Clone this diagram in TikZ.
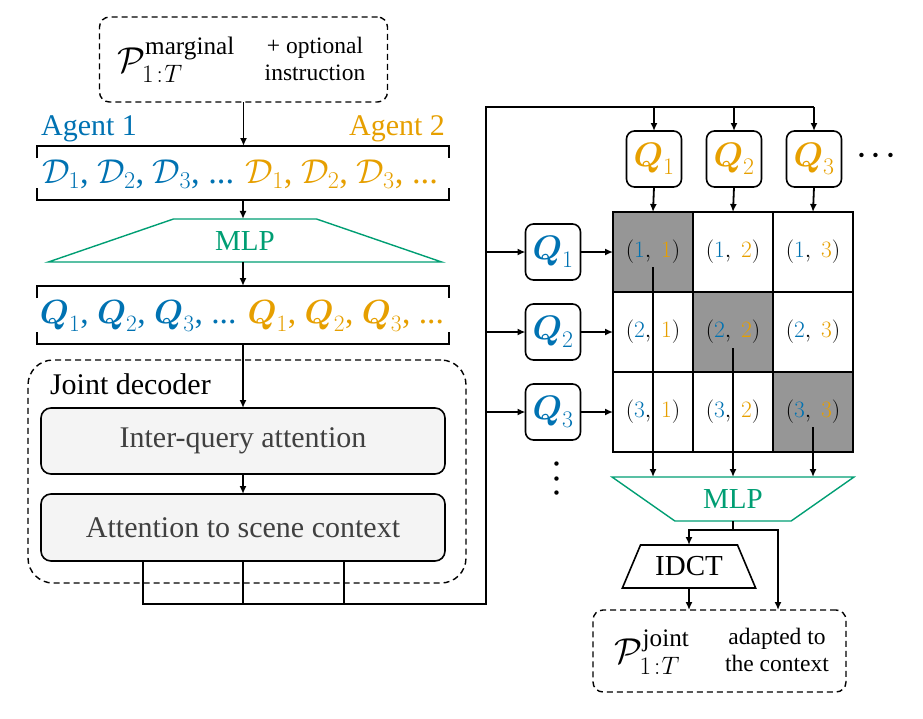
\RequirePackage{fix-cm}
\documentclass[tikz,border=0pt]{standalone}
\usepackage{amsmath,amssymb}
\usepackage[no-math]{fontspec}
\setmainfont{Liberation Serif}
\usetikzlibrary{arrows.meta,shapes.geometric,calc}
\definecolor{cblue}{RGB}{0,114,178}
\definecolor{corange}{RGB}{230,159,0}
\definecolor{cgreen}{RGB}{0,158,115}
\definecolor{cellgray}{RGB}{150,150,150}
\definecolor{boxfill}{RGB}{244,244,244}
\definecolor{boxtext}{RGB}{64,64,64}
\begin{document}
\begin{tikzpicture}[x=1pt,y=-1pt,
  every node/.style={inner sep=0pt,outer sep=0pt},
  arr/.style={-{Latex[length=8pt,width=7pt]},line width=1.8pt},
  ln/.style={line width=1.8pt},
  bus/.style={line width=2.4pt},
  brk/.style={line width=2pt},
  dbox/.style={draw,dash pattern=on 6pt off 4pt,line width=1.4pt,rounded corners=10pt},
  qbox/.style={draw,line width=1.6pt,rounded corners=8pt,minimum width=55pt,minimum height=56pt,font=\fontsize{34}{40}\selectfont},
  cell/.style={draw,line width=1.6pt,minimum width=80pt,minimum height=80pt,font=\fontsize{23.5}{28}\selectfont},
  gbox/.style={draw,line width=1.6pt,rounded corners=10pt,fill=boxfill,text=boxtext,minimum width=404pt,font=\fontsize{30}{36}\selectfont},
  big/.style={font=\fontsize{36}{42}\selectfont},
  small/.style={font=\fontsize{23.5}{27}\selectfont,align=center},
  txt/.style={font=\fontsize{30}{36}\selectfont},
  dotsty/.style={font=\fontsize{28}{34}\selectfont}
]
\useasboundingbox (0,0) rectangle (923,718);

% input box
\node[dbox,minimum width=288pt,minimum height=85pt] (inbox) at (243.5,59.5) {};
\node[big] (pm) at (176,60) {$\mathcal{P}_{1\mkern2mu{:}\mkern1muT}^{\text{marginal}}$};
\node[small] (opt) at (315,59) {+ optional\\instruction};

% agent labels
\node[txt,text=cblue] (ag1) at (89,129) {Agent 1};
\node[txt,text=corange] (ag2) at (397,129) {Agent 2};

% D row
\node[minimum width=412pt,minimum height=54pt] (drow) at (243,173) {};
\draw[brk] ($(drow.north west)+(0,12)$) -- (drow.north west) -- (drow.north east) -- ++(0,12);
\draw[brk] ($(drow.south west)+(0,-12)$) -- (drow.south west) -- (drow.south east) -- ++(0,-12);
\node[font=\fontsize{34.5}{40}\selectfont] (dtxt) at (240,174) {\textcolor{cblue}{$\mathcal{D}_1$, $\mathcal{D}_2$, $\mathcal{D}_3$, ...} \textcolor{corange}{$\mathcal{D}_1$, $\mathcal{D}_2$, $\mathcal{D}_3$, ...}};
\draw[arr] (inbox.south) -- (inbox.south |- drow.north);

% MLP 1
\node[trapezium,trapezium stretches=true,draw=cgreen,line width=1.4pt,minimum width=394pt,minimum height=43pt,
  trapezium left angle=20,trapezium right angle=20,text=cgreen,font=\fontsize{29}{34}\selectfont] (mlp1) at (245,240.5) {MLP};
\draw[arr] (drow.south) -- (drow.south |- mlp1.90);

% Q row
\node[minimum width=412pt,minimum height=58pt] (qrow) at (243,315) {};
\draw[brk] ($(qrow.north west)+(0,12)$) -- (qrow.north west) -- (qrow.north east) -- ++(0,12);
\draw[brk] ($(qrow.south west)+(0,-12)$) -- (qrow.south west) -- (qrow.south east) -- ++(0,-12);
\node[font=\fontsize{33.5}{40}\selectfont] (qtxt) at (242,316) {\textcolor{cblue}{$\boldsymbol{Q}_1$, $\boldsymbol{Q}_2$, $\boldsymbol{Q}_3$, ...} \textcolor{corange}{$\boldsymbol{Q}_1$, $\boldsymbol{Q}_2$, $\boldsymbol{Q}_3$, ...}};
\draw[arr] (qrow.south |- mlp1.270) -- (qrow.north);

% joint decoder
\node[draw,dash pattern=on 6pt off 4pt,line width=1.4pt,rounded corners=25pt,minimum width=438pt,minimum height=223pt] (jd) at (247,471.5) {};
\node[txt,anchor=west] (jdl) at (50,384) {Joint decoder};
\node[gbox,minimum height=66pt] (iq) at (243,441) {Inter-query attention};
\node[gbox,minimum height=67pt] (ac) at (243,527.5) {Attention to scene context};
\draw[arr] (qrow.south) -- (iq.north);
\draw[arr] (iq.south) -- (ac.north);

% bus
\coordinate (b1) at (143,604);
\coordinate (b2) at (243,604);
\coordinate (b3) at (344,604);
\coordinate (bc) at (486,604);
\coordinate (bt) at (486,107);
\coordinate (be) at (814,107);
\draw[bus] (b1 |- ac.south) -- (b1) -- (bc) -- (bt) -- (be);
\draw[bus] (ac.south) -- (b2);
\draw[bus] (b3 |- ac.south) -- (b3);

% top Q boxes
\node[qbox] (tq1) at (654,159) {$\textcolor{corange}{\boldsymbol{Q}_1}$};
\node[qbox] (tq2) at (734,159) {$\textcolor{corange}{\boldsymbol{Q}_2}$};
\node[qbox] (tq3) at (814,159) {$\textcolor{corange}{\boldsymbol{Q}_3}$};
\node[dotsty] (hd) at (879,156) {$\boldsymbol{\cdots}$};
\draw[arr] (tq1 |- bt) -- (tq1.north);
\draw[arr] (tq2 |- bt) -- (tq2.north);
\draw[arr] (tq3 |- bt) -- (tq3.north);

% grid
\node[cell,fill=cellgray] (c11) at (653,252) {$(\textcolor{cblue}{1},\ \textcolor{corange}{1})$};
\node[cell] (c12) at (733,252) {$(\textcolor{cblue}{1},\ \textcolor{corange}{2})$};
\node[cell] (c13) at (813,252) {$(\textcolor{cblue}{1},\ \textcolor{corange}{3})$};
\node[cell] (c21) at (653,332) {$(\textcolor{cblue}{2},\ \textcolor{corange}{1})$};
\node[cell,fill=cellgray] (c22) at (733,332) {$(\textcolor{cblue}{2},\ \textcolor{corange}{2})$};
\node[cell] (c23) at (813,332) {$(\textcolor{cblue}{2},\ \textcolor{corange}{3})$};
\node[cell] (c31) at (653,412) {$(\textcolor{cblue}{3},\ \textcolor{corange}{1})$};
\node[cell] (c32) at (733,412) {$(\textcolor{cblue}{3},\ \textcolor{corange}{2})$};
\node[cell,fill=cellgray] (c33) at (813,412) {$(\textcolor{cblue}{3},\ \textcolor{corange}{3})$};
\draw[arr] (tq1.south) -- (c11.north);
\draw[arr] (tq2.south) -- (c12.north);
\draw[arr] (tq3.south) -- (c13.north);

% left Q boxes
\node[qbox] (lq1) at (553,252) {$\textcolor{cblue}{\boldsymbol{Q}_1}$};
\node[qbox] (lq2) at (553,332) {$\textcolor{cblue}{\boldsymbol{Q}_2}$};
\node[qbox] (lq3) at (553,412) {$\textcolor{cblue}{\boldsymbol{Q}_3}$};
\node[dotsty,rotate=90] (vd) at (557,476) {$\boldsymbol{\cdots}$};
\draw[arr] (bt |- lq1) -- (lq1.west);
\draw[arr] (bt |- lq2) -- (lq2.west);
\draw[arr] (bt |- lq3) -- (lq3.west);
\draw[arr] (lq1.east) -- (c11.west);
\draw[arr] (lq2.east) -- (c21.west);
\draw[arr] (lq3.east) -- (c31.west);

% MLP 2
\node[trapezium,trapezium stretches=true,shape border rotate=180,draw=cgreen,line width=1.4pt,minimum width=242pt,minimum height=44pt,
  trapezium left angle=30.5,trapezium right angle=30.5,text=cgreen,font=\fontsize{29}{34}\selectfont] (mlp2) at (733,499) {MLP};
\draw[arr] ($(c11.center)+(0,15)$) -- (c11 |- mlp2.90);
\draw[arr] ($(c22.center)+(0,16)$) -- (c22 |- mlp2.90);
\draw[arr] ($(c33.center)+(0,15)$) -- (c33 |- mlp2.90);

% IDCT
\node[trapezium,trapezium stretches=true,draw,line width=1.6pt,minimum width=134pt,minimum height=43pt,
  trapezium left angle=57,trapezium right angle=57,font=\fontsize{29}{34}\selectfont] (idct) at (689,566.5) {IDCT};

% output box
\node[dbox,minimum width=253pt,minimum height=82pt] (outbox) at (719.5,651) {};
\node[big] (pj) at (652,652) {$\mathcal{P}_{1\mkern2mu{:}\mkern1muT}^{\text{joint}}$};
\node[small] (adapt) at (777,650) {adapted to\\the context};

\coordinate (split) at (733,530);
\coordinate (ctx) at ($(outbox.north west)+(185,0)$);
\draw[ln] (mlp2.270) -- (split);
\draw[arr] (split) -| (idct.90);
\draw[arr] (split) -| (ctx);
\draw[arr] (idct.270) -- (idct.270 |- outbox.north);
\end{tikzpicture}
\end{document}
